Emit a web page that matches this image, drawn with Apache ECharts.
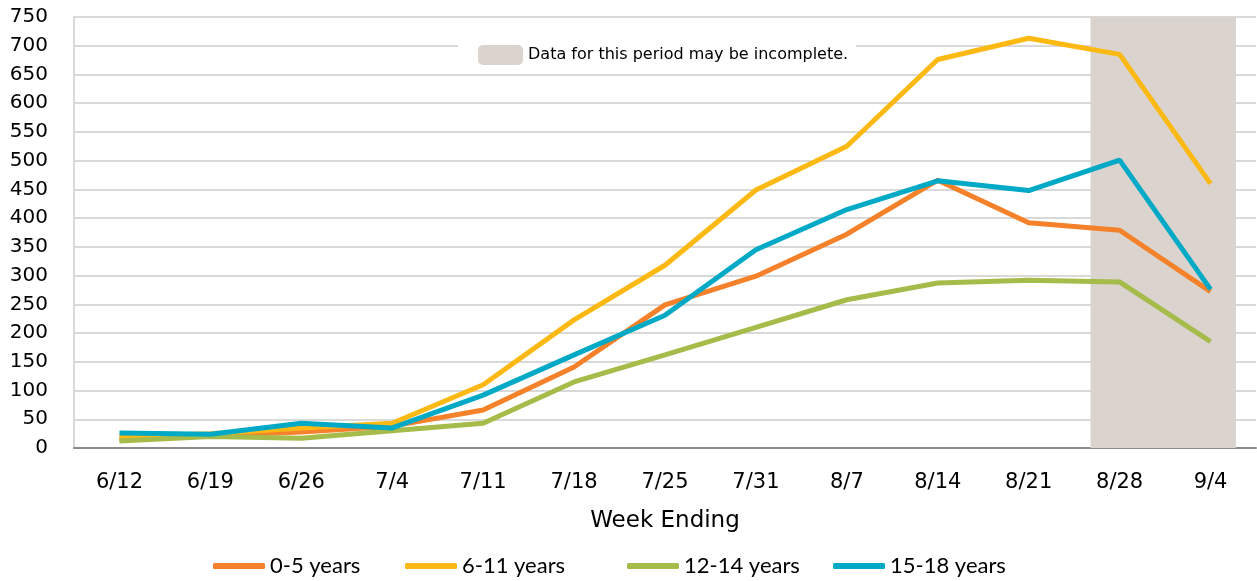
<!DOCTYPE html>
<html>
<head>
<meta charset="utf-8">
<script src="https://cdn.jsdelivr.net/npm/echarts@6/dist/echarts.min.js"></script>
<style>
  html, body { margin: 0; padding: 0; background: #fff; }
  #chart { width: 1257px; height: 581px; }
</style>
</head>
<body>
<div id="chart"></div>
<script>
// 数据
var weeks = ['6/12', '6/19', '6/26', '7/4', '7/11', '7/18', '7/25', '7/31', '8/7', '8/14', '8/21', '8/28', '9/4'];
var ageGroups = ['0-5 years', '6-11 years', '12-14 years', '15-18 years'];
var age0to5 = [15, 22, 28, 38, 66, 141, 249, 299, 372, 466, 392, 379, 272];
var age6to11 = [20, 25, 35, 43, 110, 223, 318, 449, 525, 676, 713, 685, 460];
var age12to14 = [12, 20, 17, 30, 43, 115, 162, 210, 258, 287, 292, 289, 185];
var age15to18 = [26, 24, 43, 35, 92, 162, 231, 345, 415, 465, 448, 501, 276];
// 阴影区间（按类目序号计，0-13）
var incompleteFrom = 11.18;
var incompleteTo = 12.78;
var incompleteName = 'Data for this period may be incomplete.';

var colors = ['#F5822A', '#FDB913', '#A5BB4A', '#00A9C5'];
var legendLeft = [213, 405, 627, 833]; // 图例位置

var myChart = echarts.init(document.getElementById('chart'));

function lineSeries(name, data, color) {
  return {
    name: name,
    type: 'line',
    data: data,
    symbol: 'none',
    z: 3,
    lineStyle: { color: color, width: 5 },
    itemStyle: { color: color }
  };
}

// 底部图例每项单独放置
var legends = ageGroups.map(function (name, i) {
  return {
    top: 555,
    left: legendLeft[i],
    padding: 0,
    itemWidth: 52,
    itemHeight: 6,
    icon: 'roundRect',
    textStyle: { fontFamily: 'Lato', fontSize: 22, color: '#000' },
    data: [name]
  };
});
legends.push({
  left: 458,
  top: 36,
  padding: [9, 8, 9, 20],
  backgroundColor: '#fff',
  itemWidth: 45,
  itemHeight: 20,
  textStyle: { fontFamily: 'DejaVu Sans', fontSize: 16, color: '#000' },
  data: [{ name: incompleteName, icon: 'roundRect', itemStyle: { color: '#DAD3CE' } }]
});

var option = {
  animation: false,
  textStyle: { fontFamily: 'DejaVu Sans' },
  grid: { left: 74, right: 1, top: 17, bottom: 133 },
  legend: legends,
  xAxis: [
    {
      type: 'category',
      data: weeks,
      name: 'Week Ending',
      nameLocation: 'middle',
      nameGap: 62,
      nameTextStyle: { fontSize: 23, color: '#000' },
      axisLine: { lineStyle: { color: '#8C8C8C', width: 2 } },
      axisTick: { show: false },
      axisLabel: { fontSize: 21, color: '#000', margin: 24 }
    },
    {
      type: 'value',
      min: 0,
      max: 13,
      show: false
    }
  ],
  yAxis: {
    type: 'value',
    min: 0,
    max: 750,
    interval: 50,
    axisLine: { show: true, lineStyle: { color: '#D9D9D9', width: 2 } },
    axisTick: { show: false },
    axisLabel: { fontSize: 20, color: '#000', margin: 26 },
    splitLine: { lineStyle: { color: '#D9D9D9', width: 2 } }
  },
  series: [
    {
      name: incompleteName,
      type: 'line',
      xAxisIndex: 1,
      data: [],
      z: 1,
      itemStyle: { color: '#DAD3CE' },
      markArea: {
        silent: true,
        itemStyle: { color: '#DAD3CE' },
        data: [[{ xAxis: incompleteFrom }, { xAxis: incompleteTo }]]
      }
    },
    lineSeries(ageGroups[0], age0to5, colors[0]),
    lineSeries(ageGroups[1], age6to11, colors[1]),
    lineSeries(ageGroups[2], age12to14, colors[2]),
    lineSeries(ageGroups[3], age15to18, colors[3])
  ]
};

myChart.setOption(option);
</script>
</body>
</html>
